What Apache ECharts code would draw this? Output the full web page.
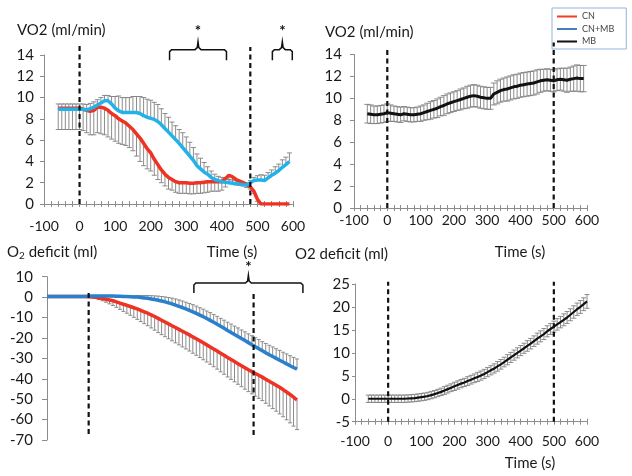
<!DOCTYPE html>
<html><head><meta charset="utf-8">
<script src="https://cdn.jsdelivr.net/npm/echarts@6/dist/echarts.min.js"></script>
<style>html,body{margin:0;padding:0;background:#fff}#c{width:632px;height:476px}</style>
</head><body><div id="c"></div>
<script>
const FONT = "'Lato', sans-serif";

// ---------- Panel A: VO2, CN vs CN+MB ----------
const timeVO2 = [-60,-50,-40,-30,-20,-10,0,10,20,30,40,50,60,70,80,90,100,110,120,130,140,150,160,170,180,190,200,210,220,230,240,250,260,270,280,290,300,310,320,330,340,350,360,370,380,390,400,410,420,430,440,450,460,470,480,490,500,510,520,530,540,550,560,570,580,590];
const cnVO2 = [9.0,9.0,9.0,9.0,9.0,9.0,9.0,
  8.9,8.8,8.7,8.8,9.1,9.1,9.0,8.8,8.5,8.3,
  8.0,7.8,7.6,7.3,7.0,6.6,6.2,5.7,5.2,4.8,
  4.2,3.7,3.2,2.8,2.5,2.3,2.1,2.0,2.0,2.0,
  1.95,1.95,2.0,2.0,2.05,2.1,2.1,2.1,2.1,2.1,
  2.4,2.7,2.55,2.3,2.15,2.0,1.85,1.6,1.2,0.45,
  0,0,0,0,0,0,0,0,0];
const cnVO2ErrMinus = [2.0,2.0,2.0,2.0,2.0,2.0,2.0,
  2.0,2.1,2.2,2.3,2.4,2.5,2.5,2.5,2.4,2.4,
  2.3,2.2,2.1,2.0,2.0,2.1,2.2,2.1,1.9,1.7,
  1.5,1.4,1.2,1.1,1.1,1.0,1.0,1.0,1.0,1.0,
  1.0,1.0,1.0,1.0,1.0,1.0,0.9,0.9,0.9,0.8,
  0.8,0.7,0.6,0.5,0.4,0.3,0.3,0.2,0.2,0.2,
  0,0,0,0,0,0,0,0,0];
const cnmbVO2 = [8.9,8.9,8.9,8.9,8.9,8.9,8.9,
  8.9,8.85,8.95,9.1,9.3,9.5,9.7,9.7,9.4,9.0,
  8.75,8.6,8.6,8.6,8.6,8.6,8.5,8.3,8.15,8.05,
  7.95,7.75,7.45,7.1,6.75,6.4,6.05,5.7,5.3,4.9,
  4.5,4.1,3.6,3.3,3.0,2.8,2.5,2.3,2.2,2.1,
  2.05,2.0,1.95,1.9,1.85,1.8,1.78,2.0,2.2,2.26,
  2.25,2.2,2.45,2.7,2.9,3.15,3.45,3.7,4.0];
const cnmbVO2ErrPlus = [0.5,0.5,0.5,0.5,0.5,0.5,0.5,
  0.5,0.5,0.5,0.5,0.5,0.5,0.5,0.5,0.7,1.1,
  1.4,1.4,1.4,1.4,1.5,1.5,1.6,1.7,1.7,1.7,
  1.6,1.6,1.5,1.4,1.4,1.3,1.3,1.3,1.4,1.4,
  1.3,1.2,1.1,1.0,0.9,0.7,0.6,0.5,0.4,0.4,
  0.4,0.3,0.3,0.3,0.2,0.2,0.2,0.2,0.3,0.4,
  0.5,0.5,0.5,0.5,0.6,0.6,0.7,0.7,0.8];

// ---------- Panel B: VO2, MB ----------
const mbVO2 = [8.6,8.55,8.5,8.5,8.55,8.6,8.7,
  8.65,8.6,8.55,8.5,8.6,8.55,8.5,8.5,8.55,8.6,
  8.7,8.8,8.9,9.0,9.1,9.25,9.35,9.5,9.6,9.7,
  9.8,9.9,10.0,10.1,10.2,10.25,10.2,10.1,10.05,10.0,
  10.0,10.4,10.55,10.7,10.8,10.85,10.95,11.05,11.1,11.2,
  11.25,11.3,11.35,11.4,11.5,11.6,11.65,11.7,11.65,11.6,
  11.7,11.75,11.7,11.65,11.75,11.8,11.85,11.8,11.8];
const mbVO2Err = [0.85,0.85,0.8,0.8,0.8,0.8,0.8,
  0.75,0.7,0.7,0.7,0.65,0.65,0.65,0.65,0.65,0.7,
  0.7,0.75,0.8,0.8,0.85,0.85,0.9,0.9,0.9,0.9,
  0.9,0.95,0.95,1.0,1.0,1.0,1.0,1.0,1.0,1.0,
  1.0,1.0,1.05,1.05,1.05,1.1,1.1,1.1,1.1,1.1,
  1.1,1.1,1.1,1.1,1.1,1.05,1.0,1.0,1.0,1.0,
  1.0,1.0,1.05,1.1,1.1,1.15,1.2,1.2,1.2];

// ---------- Panel C: O2 deficit, CN vs CN+MB ----------
const timeDef = [-120,-110,-100,-90,-80,-70,-60,-50,-40,-30,-20,-10,0,10,20,30,40,50,60,70,80,90,100,110,120,130,140,150,160,170,180,190,200,210,220,230,240,250,260,270,280,290,300,310,320,330,340,350,360,370,380,390,400,410,420,430,440,450,460,470,480,490,500,510,520,530,540,550,560,570,580,590,600];
const cnDef = [0.3,0.3,0.3,0.3,0.3,0.3,0.3,0.3,0.3,0.3,0.3,0.3,
  0.2,0.1,-0.1,-0.4,-0.7,-1.0,-1.4,-1.8,-2.3,-2.9,
  -3.5,-4.0,-4.6,-5.2,-5.8,-6.5,-7.2,-7.9,-8.7,-9.5,
  -10.4,-11.3,-12.2,-13.1,-14.0,-14.9,-15.8,-16.7,-17.6,-18.5,
  -19.5,-20.4,-21.4,-22.4,-23.4,-24.4,-25.4,-26.4,-27.5,-28.5,
  -29.6,-30.6,-31.6,-32.6,-33.6,-34.6,-35.6,-36.5,-37.4,-38.3,
  -39.2,-40.2,-41.2,-42.2,-43.2,-44.2,-45.3,-46.5,-47.7,-49.0,
  -50.4];
const cnDefErrMinus = [0,0,0,0,0,0,0,0,0,0,0,0,
  0,0.2,0.5,0.8,1.1,1.5,1.9,2.3,2.7,3.1,
  3.5,3.9,4.3,4.7,5.1,5.5,5.8,6.1,6.4,6.7,
  7.0,7.1,7.2,7.3,7.4,7.5,7.6,7.7,7.8,7.9,
  8.0,8.1,8.2,8.3,8.4,8.5,8.7,8.9,9.1,9.3,
  9.5,9.7,9.9,10.1,10.3,10.5,10.7,10.9,11.1,11.3,
  11.5,11.8,12.1,12.4,12.7,13.0,13.3,13.6,13.9,14.2,
  14.5];
const cnmbDef = [0.3,0.3,0.3,0.3,0.3,0.3,0.3,0.3,0.3,0.3,0.3,0.3,
  0.4,0.5,0.5,0.5,0.5,0.5,0.5,0.5,0.4,0.4,
  0.3,0.3,0.2,0.1,0.0,-0.2,-0.4,-0.6,-0.9,-1.2,
  -1.5,-1.9,-2.3,-2.8,-3.3,-3.9,-4.5,-5.1,-5.8,-6.5,
  -7.2,-8.0,-8.8,-9.6,-10.5,-11.4,-12.3,-13.3,-14.3,-15.3,
  -16.3,-17.3,-18.3,-19.3,-20.3,-21.3,-22.3,-23.3,-24.3,-25.3,
  -26.3,-27.3,-28.2,-29.1,-30.0,-30.9,-31.8,-32.7,-33.6,-34.5,
  -35.3];
const cnmbDefErrPlus = [0,0,0,0,0,0,0,0,0,0,0,0,
  0,0,0,0,0,0,0.1,0.1,0.2,0.2,
  0.3,0.4,0.5,0.6,0.8,1.0,1.2,1.4,1.6,1.8,
  2.0,2.2,2.4,2.6,2.8,3.0,3.1,3.2,3.3,3.4,
  3.5,3.6,3.6,3.7,3.7,3.8,3.8,3.9,3.9,4.0,
  4.0,4.1,4.1,4.2,4.2,4.3,4.3,4.4,4.4,4.5,
  4.5,4.6,4.6,4.7,4.7,4.8,4.8,4.9,4.9,5.0,
  5.0];

// ---------- Panel D: O2 deficit, MB ----------
const timeMBDef = [-60,-50,-40,-30,-20,-10,0,10,20,30,40,50,60,70,80,90,100,110,120,130,140,150,160,170,180,190,200,210,220,230,240,250,260,270,280,290,300,310,320,330,340,350,360,370,380,390,400,410,420,430,440,450,460,470,480,490,500,510,520,530,540,550,560,570,580,590,600];
const mbDef = [0,0,0,0,0,0,0,
  0,0,0,0,0,0.05,0.1,0.15,0.25,0.35,
  0.45,0.6,0.8,1.0,1.25,1.5,1.8,2.1,2.4,2.7,
  3.0,3.3,3.55,3.85,4.15,4.45,4.75,5.05,5.4,5.8,
  6.2,6.6,7.05,7.5,8.0,8.5,9.0,9.5,10.0,10.5,
  11.0,11.5,12.0,12.55,13.1,13.6,14.1,14.7,15.2,15.7,
  16.2,16.7,17.2,17.7,18.3,18.9,19.5,20.0,20.6,21.2];
const mbDefErr = [0.8,0.8,0.8,0.8,0.8,0.8,0.8,
  0.8,0.8,0.8,0.8,0.8,0.8,0.8,0.8,0.8,0.8,
  0.8,0.8,0.8,0.8,0.8,0.8,0.85,0.85,0.85,0.9,
  0.9,0.9,0.9,0.95,0.95,0.95,1.0,1.0,1.0,1.0,
  1.0,1.0,1.05,1.05,1.05,1.1,1.1,1.1,1.1,1.1,
  1.1,1.15,1.15,1.15,1.2,1.2,1.2,1.2,1.2,1.2,
  1.25,1.25,1.3,1.3,1.3,1.35,1.35,1.4,1.4,1.5];

// ---------- annotations (data coordinates) ----------
// vertical dashed lines: [x, yFrom, yTo]
const vlinesA = [[0, 0, 14.9], [480, 0, 14.75]];
const vlinesB = [[0, 0, 14.5], [500, 0, 15.1]];
const vlinesC = [[0, -67, 2], [475, -67.5, 2]];
const vlinesD = [[0, -5, 25.5], [500, -5, 25.5]];
// braces: [xLeft, xRight, yEnds, yBar, yPeak, yStar]
const bracesA = [[253, 413, 13.5, 14.5, 15.25, 16.2], [542, 598, 13.5, 14.5, 15.25, 16.2]];
const bracesC = [[303, 617, 2.0, 6.9, 10.8, 14.7]];

const legendNames = ['CN', 'CN+MB', 'MB'];
const legendColors = ['#f03c28', '#4a7ebb', '#111111'];

// ---------- helpers ----------
const C_RED = '#ee3224', C_CYAN = '#22b2ea', C_BLUE = '#2a80cc', C_BLACK = '#111';
const ERR_COLOR = '#7f7f7f';
const AXIS_COLOR = '#8c8c8c';
const TXT = '#1a1a1a';
const FS = 14;

function errSeries(name, xi, times, vals, plus, minus, capHalf) {
  return {
    name: name + ' err', type: 'custom', xAxisIndex: xi, yAxisIndex: xi, z: 1, silent: true,
    data: times.map((t, i) => [t, vals[i], plus ? plus[i] : 0, minus ? minus[i] : 0]),
    renderItem: function (params, api) {
      const x = api.value(0), y = api.value(1), up = api.value(2), dn = api.value(3);
      if (!(up > 0) && !(dn > 0)) return null;
      const top = api.coord([x, y + up]), bot = api.coord([x, y - dn]);
      const st = { stroke: ERR_COLOR, lineWidth: 0.9 };
      const ch = [{ type: 'line', shape: { x1: top[0], y1: top[1], x2: bot[0], y2: bot[1] }, style: st }];
      if (up > 0) ch.push({ type: 'line', shape: { x1: top[0] - capHalf, y1: top[1], x2: top[0] + capHalf, y2: top[1] }, style: st });
      if (dn > 0) ch.push({ type: 'line', shape: { x1: bot[0] - capHalf, y1: bot[1], x2: bot[0] + capHalf, y2: bot[1] }, style: st });
      return { type: 'group', children: ch };
    }
  };
}
function lineSeries(name, xi, times, vals, color, width) {
  return {
    name: name, type: 'line', xAxisIndex: xi, yAxisIndex: xi, z: 3, symbol: 'none', silent: true,
    data: times.map((t, i) => [t, vals[i]]),
    lineStyle: { color: color, width: width }, itemStyle: { color: color }
  };
}
function vlineSeries(xi, lines) {
  return {
    type: 'custom', xAxisIndex: xi, yAxisIndex: xi, z: 4, silent: true, data: lines,
    renderItem: function (params, api) {
      const a = api.coord([api.value(0), api.value(1)]), b = api.coord([api.value(0), api.value(2)]);
      return { type: 'line', shape: { x1: a[0], y1: a[1], x2: b[0], y2: b[1] },
        style: { stroke: C_BLACK, lineWidth: 2.2, lineDash: [5, 3.5] } };
    }
  };
}
function braceSeries(xi, braces) {
  return {
    type: 'custom', xAxisIndex: xi, yAxisIndex: xi, z: 5, silent: true, data: braces,
    renderItem: function (params, api) {
      const L = api.coord([api.value(0), api.value(2)]);
      const R = api.coord([api.value(1), api.value(2)]);
      const yBar = api.coord([api.value(0), api.value(3)])[1];
      const yPk = api.coord([api.value(0), api.value(4)])[1];
      const yStar = api.coord([api.value(0), api.value(5)])[1];
      const cx = (L[0] + R[0]) / 2;
      const pts = [[L[0], L[1]], [L[0], yBar + 2], [L[0] + 2, yBar], [cx - 3, yBar], [cx - 0.8, yBar - 2],
        [cx, yPk], [cx + 0.8, yBar - 2], [cx + 3, yBar], [R[0] - 2, yBar], [R[0], yBar + 2], [R[0], R[1]]];
      return { type: 'group', children: [
        { type: 'polyline', shape: { points: pts }, style: { stroke: C_BLACK, lineWidth: 1.5, fill: null } },
        { type: 'text', x: cx, y: yStar, style: { text: '*', fontSize: 15, fontWeight: 'bold', fontFamily: FONT, fill: C_BLACK, align: 'center', verticalAlign: 'middle' } }
      ] };
    }
  };
}
function xAxisMain(gi, min, max, margin) {
  return { gridIndex: gi, type: 'value', min: min, max: max, interval: 100, position: 'bottom',
    axisLine: { show: true, onZero: false, lineStyle: { color: AXIS_COLOR, width: 1 } },
    axisTick: { show: true, length: 3, lineStyle: { color: AXIS_COLOR } },
    minorTick: { show: true, splitNumber: 5, length: 3, lineStyle: { color: AXIS_COLOR } },
    axisLabel: { margin: margin, color: TXT, fontSize: FS, fontFamily: FONT },
    splitLine: { show: false } };
}
function xAxisInnerTicks(gi, min, max) {
  return { gridIndex: gi, type: 'value', min: min, max: max, interval: 100, position: 'bottom',
    axisLine: { show: false, onZero: false }, axisLabel: { show: false },
    axisTick: { show: true, inside: true, length: 3, lineStyle: { color: AXIS_COLOR } },
    minorTick: { show: true, splitNumber: 5, length: 3, lineStyle: { color: AXIS_COLOR } },
    splitLine: { show: false } };
}
function yAxisMain(gi, min, max, interval, tickLen, margin) {
  return { gridIndex: gi, type: 'value', min: min, max: max, interval: interval,
    axisLine: { show: true, onZero: false, lineStyle: { color: AXIS_COLOR, width: 1 } },
    axisTick: { show: true, length: tickLen, lineStyle: { color: AXIS_COLOR } },
    axisLabel: { margin: margin, color: TXT, fontSize: FS + 1, fontFamily: FONT },
    splitLine: { show: false } };
}

const chart = echarts.init(document.getElementById('c'), null, { renderer: 'canvas' });
chart.setOption({
  animation: false,
  backgroundColor: '#fff',
  grid: [
    { left: 44, top: 55, width: 249, height: 149 },
    { left: 354, top: 54.5, width: 233, height: 153.5 },
    { left: 47, top: 276.7, width: 250, height: 163.3 },
    { left: 355, top: 284, width: 232, height: 137.7 }
  ],
  xAxis: [
    xAxisMain(0, -100, 600, 15),
    xAxisMain(1, -100, 600, 5),
    { gridIndex: 2, type: 'value', min: -120, max: 600, show: false, axisLine: { onZero: false } },
    xAxisMain(3, -100, 600, 13),
    xAxisInnerTicks(0, -100, 600),
    xAxisInnerTicks(1, -100, 600),
    xAxisInnerTicks(3, -100, 600)
  ],
  yAxis: [
    yAxisMain(0, 0, 14, 2, 4, 10),
    yAxisMain(1, 0, 14, 2, 4, 12),
    yAxisMain(2, -70, 10, 10, 5, 14),
    yAxisMain(3, -5, 25, 5, 3, 5)
  ],
  legend: {
    orient: 'vertical', left: 552, top: 8, padding: [3, 12, 2, 5], itemGap: 1.5,
    itemWidth: 20, itemHeight: 2, selectedMode: false, icon: 'rect',
    borderColor: '#95b3d7', borderWidth: 1, backgroundColor: '#fff',
    textStyle: { fontSize: 9, color: '#444', fontFamily: FONT, lineHeight: 11 },
    data: legendNames.map((n, i) => ({ name: n, icon: 'rect',
      itemStyle: { color: legendColors[i] } }))
  },
  graphic: [
    { type: 'text', x: 17, y: 30, style: { text: 'VO2 (ml/min)', fontSize: 15, fontFamily: FONT, fill: TXT, verticalAlign: 'middle' } },
    { type: 'text', x: 325, y: 32, style: { text: 'VO2 (ml/min)', fontSize: 15, fontFamily: FONT, fill: TXT, verticalAlign: 'middle' } },
    { type: 'text', x: 232, y: 252, style: { text: 'Time (s)', fontSize: 15, fontFamily: FONT, fill: TXT, align: 'center', verticalAlign: 'middle' } },
    { type: 'text', x: 520, y: 252, style: { text: 'Time (s)', fontSize: 15, fontFamily: FONT, fill: TXT, align: 'center', verticalAlign: 'middle' } },
    { type: 'text', x: 530, y: 463, style: { text: 'Time (s)', fontSize: 15, fontFamily: FONT, fill: TXT, align: 'center', verticalAlign: 'middle' } },
    { type: 'text', x: 295, y: 254, style: { text: 'O2 deficit (ml)', fontSize: 15, fontFamily: FONT, fill: TXT, verticalAlign: 'middle' } },
    { type: 'text', x: 7, y: 243, style: { text: 'O{s|2} deficit (ml)', fontSize: 15, fontFamily: FONT, fill: TXT, verticalAlign: 'top',
      rich: { s: { fontSize: 10, fontFamily: FONT, fill: TXT, lineHeight: 10, verticalAlign: 'bottom' } }, lineHeight: 18 } }
  ],
  series: [
    lineSeries('CN', 0, timeVO2, cnVO2, C_RED, 3.5),
    lineSeries('CN+MB', 0, timeVO2, cnmbVO2, C_CYAN, 3.5),
    lineSeries('MB', 1, timeVO2, mbVO2, C_BLACK, 3),
    errSeries('CN', 0, timeVO2, cnVO2, null, cnVO2ErrMinus, 2.5),
    errSeries('CN+MB', 0, timeVO2, cnmbVO2, cnmbVO2ErrPlus, null, 2.5),
    vlineSeries(0, vlinesA),
    braceSeries(0, bracesA),

    errSeries('MB', 1, timeVO2, mbVO2, mbVO2Err, mbVO2Err, 3),
    vlineSeries(1, vlinesB),

    errSeries('CN', 2, timeDef, cnDef, null, cnDefErrMinus, 2),
    errSeries('CN+MB', 2, timeDef, cnmbDef, cnmbDefErrPlus, null, 2),
    lineSeries('CN', 2, timeDef, cnDef, C_RED, 3.5),
    lineSeries('CN+MB', 2, timeDef, cnmbDef, C_BLUE, 3.5),
    vlineSeries(2, vlinesC),
    braceSeries(2, bracesC),

    errSeries('MB', 3, timeMBDef, mbDef, mbDefErr, mbDefErr, 2.5),
    lineSeries('MB', 3, timeMBDef, mbDef, C_BLACK, 2.2),
    vlineSeries(3, vlinesD)
  ]
});
</script></body></html>
